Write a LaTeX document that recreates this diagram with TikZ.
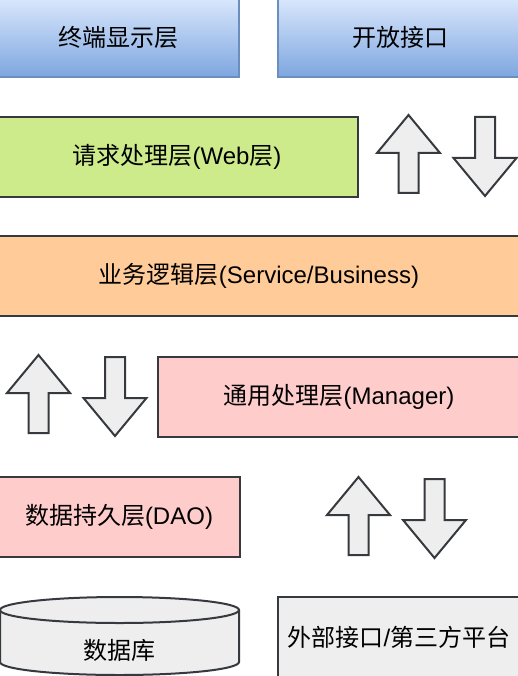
\documentclass[tikz,border=0pt]{standalone}
\usepackage{fontspec}
\setmainfont{Liberation Sans}
\newfontfamily\cjk{Noto Sans CJK SC}
\usepackage{tikz}

\definecolor{topblue}{HTML}{DAE8FC}
\definecolor{botblue}{HTML}{7EA6E0}
\definecolor{edgeblue}{HTML}{6C8EBF}
\definecolor{webgreen}{HTML}{CDEB8B}
\definecolor{bizorange}{HTML}{FFCC99}
\definecolor{mgrpink}{HTML}{FFCCCC}
\definecolor{lightgray}{HTML}{EEEEEE}
\definecolor{darkedge}{HTML}{36393D}

\tikzset{
  layer/.style={draw=darkedge, line width=2pt, minimum height=80pt, inner sep=0pt,
    font=\fontsize{24}{28}\selectfont},
  bluelayer/.style={layer, draw=edgeblue, line width=1.5pt, top color=topblue, bottom color=botblue},
  blockarrow/.style={draw=darkedge, fill=lightgray, line width=2pt, line join=miter},
}

% block arrows, given by their tip
\newcommand{\uparrowat}[2]{%
  \draw[blockarrow] (#1,#2) -- ++(31.5,38) -- ++(-21.5,0) -- ++(0,40) -- ++(-20,0)
    -- ++(0,-40) -- ++(-21.5,0) -- cycle;}
\newcommand{\downarrowat}[2]{%
  \draw[blockarrow] (#1,#2) -- ++(31.5,-38) -- ++(-21.5,0) -- ++(0,-41) -- ++(-20,0)
    -- ++(0,41) -- ++(-21.5,0) -- cycle;}

\begin{document}
\begin{tikzpicture}[x=1pt, y=-1pt]
\useasboundingbox (0,0) rectangle (518,676);
\clip (0,0) rectangle (518,676);

% top row
\node[bluelayer, minimum width=242pt] (term) at (118,37) {{\cjk 终端显示层}};
\node[bluelayer, minimum width=244pt] (open) at (400,37) {{\cjk 开放接口}};

% web layer
\node[layer, fill=webgreen, minimum width=362pt] (web) at (177,157) {{\cjk 请求处理层}(Web{\cjk 层})};
\uparrowat{408.5}{115}
\downarrowat{485}{196}

% business layer
\node[layer, fill=bizorange, minimum width=524pt] (biz) at (259,276) {{\cjk 业务逻辑层}(Service/Business)};

% manager layer
\uparrowat{38.5}{355}
\downarrowat{115}{436}
\node[layer, fill=mgrpink, minimum width=362pt] (mgr) at (339,397) {{\cjk 通用处理层}(Manager)};

% dao layer
\node[layer, fill=mgrpink, minimum width=242pt] (dao) at (119,517) {{\cjk 数据持久层}(DAO)};
\uparrowat{358.5}{477}
\downarrowat{434.5}{558}

% database
\draw[blockarrow] (0,610) -- (0,662) arc[start angle=180, end angle=0, x radius=119.5, y radius=13]
  -- (239,610);
\draw[blockarrow] (119.5,610) ellipse[x radius=119.5, y radius=13];
\node[font=\fontsize{24}{28}\selectfont] (db) at (119.5,650) {{\cjk 数据库}};

% external
\node[layer, fill=lightgray, minimum width=242pt] (ext) at (399,637) {{\cjk 外部接口}/{\cjk 第三方平台}};
\end{tikzpicture}
\end{document}
